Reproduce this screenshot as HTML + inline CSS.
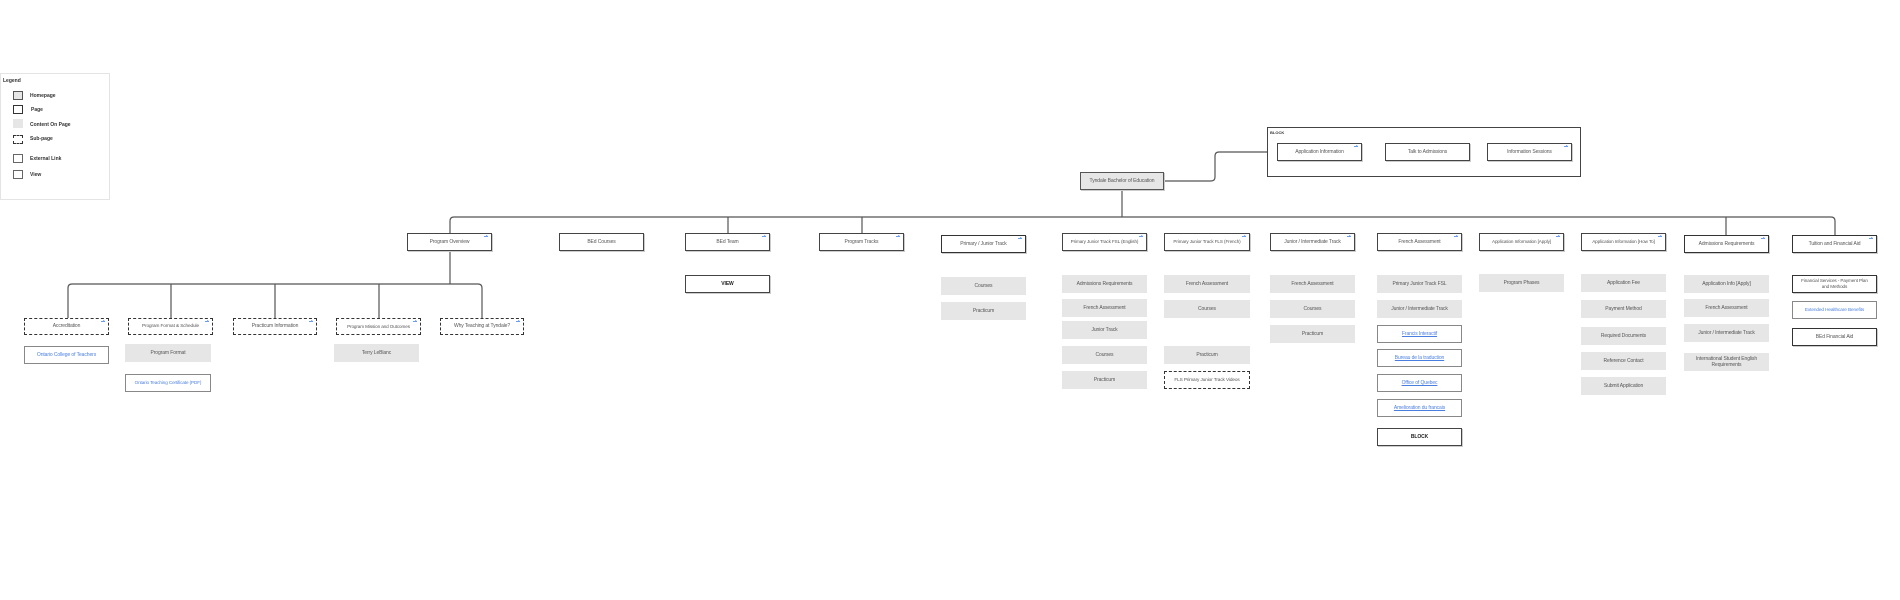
<!DOCTYPE html>
<html><head><meta charset="utf-8">
<style>
html,body{margin:0;padding:0;background:#fff;}
body{width:1900px;height:600px;position:relative;overflow:hidden;font-family:"Liberation Sans",sans-serif;}
.b{position:absolute;box-sizing:border-box;display:flex;align-items:center;justify-content:center;text-align:center;font-size:5px;color:#555;line-height:1.3;white-space:nowrap;letter-spacing:-0.1px;}
.p{border:1.2px solid #444;background:#fff;box-shadow:1px 1px 0 #ccc;}
.t{border:1.6px solid #333;}
.c{background:#e6e6e6;}
.d{border:1.2px dashed #333;background:#fff;}
.l{border:1.2px solid #888;background:#fff;color:#4a7fe0;}
.u{text-decoration:underline;}
.k{font-weight:bold;color:#222;}
.a::after{content:"";position:absolute;right:3px;top:2px;width:4px;height:1px;background:#6b9cf0;}
.a::before{content:"";position:absolute;right:3px;top:1px;width:0;height:0;border-left:2px solid #6b9cf0;border-top:1.5px solid transparent;border-bottom:1.5px solid transparent;}
.lg{position:absolute;font-size:5px;font-weight:bold;color:#333;}
.ic{position:absolute;left:13px;width:10px;height:9px;box-sizing:border-box;}
</style></head><body>
<svg width="1900" height="600" style="position:absolute;left:0;top:0" fill="none" stroke="#555" stroke-width="1.2">
<path d="M450 233 V221 Q450 217 454 217 H1831 Q1835 217 1835 221 V235"/>
<path d="M1122 190 V217"/>
<path d="M728 217 V233 M862 217 V233 M1726 217 V235"/>
<path d="M1164 181 H1211 Q1215 181 1215 177 V156 Q1215 152 1219 152 H1267"/>
<path d="M450 251 V284"/>
<path d="M68 318 V288 Q68 284 72 284 H478 Q482 284 482 288 V318"/>
<path d="M171 284 V318 M275 284 V318 M379 284 V318"/>
</svg>

<div style="position:absolute;left:0;top:73px;width:110px;height:127px;border:1px solid #e4e4e4;box-sizing:border-box;"></div>
<div class="lg" style="left:3px;top:78px;">Legend</div>
<div class="ic" style="top:91px;background:#e6e6e6;border:1.2px solid #555;"></div><div class="lg" style="left:30px;top:93px;">Homepage</div>
<div class="ic" style="top:105px;border:1.2px solid #333;"></div><div class="lg" style="left:31px;top:107px;">Page</div>
<div class="ic" style="top:119px;background:#e6e6e6;"></div><div class="lg" style="left:30px;top:122px;">Content On Page</div>
<div class="ic" style="top:135px;border:1.2px dashed #333;"></div><div class="lg" style="left:30px;top:136px;">Sub-page</div>
<div class="ic" style="top:154px;border:1px solid #666;"></div><div class="lg" style="left:30px;top:156px;">External Link</div>
<div class="ic" style="top:170px;border:1px solid #666;"></div><div class="lg" style="left:30px;top:172px;">View</div>

<div class="b p" style="left:1080px;top:172px;width:84px;height:18px;background:#e6e6e6;border-color:#555;">Tyndale Bachelor of Education</div>
<div style="position:absolute;left:1267px;top:127px;width:314px;height:50px;border:1.2px solid #444;box-sizing:border-box;"></div>
<div class="lg" style="left:1270px;top:130px;font-size:4px;">BLOCK</div>
<div class="b p a" style="left:1277px;top:143px;width:85px;height:18px;">Application Information</div>
<div class="b p" style="left:1385px;top:143px;width:85px;height:18px;">Talk to Admissions</div>
<div class="b p a" style="left:1487px;top:143px;width:85px;height:18px;">Information Sessions</div>

<div class="b p a" style="left:407px;top:233px;width:85px;height:18px;">Program Overview</div>
<div class="b p" style="left:559px;top:233px;width:85px;height:18px;">BEd Courses</div>
<div class="b p a" style="left:685px;top:233px;width:85px;height:18px;">BEd Team</div>
<div class="b p a" style="left:819px;top:233px;width:85px;height:18px;">Program Tracks</div>
<div class="b p t a" style="left:941px;top:235px;width:85px;height:18px;">Primary / Junior Track</div>
<div class="b p a" style="left:1062px;top:233px;width:85px;height:18px;font-size:4.6px;">Primary Junior Track FSL (English)</div>
<div class="b p a" style="left:1164px;top:233px;width:86px;height:18px;font-size:4.6px;">Primary Junior Track FLS (French)</div>
<div class="b p a" style="left:1270px;top:233px;width:85px;height:18px;">Junior / Intermediate Track</div>
<div class="b p a" style="left:1377px;top:233px;width:85px;height:18px;">French Assessment</div>
<div class="b p a" style="left:1479px;top:233px;width:85px;height:18px;font-size:4.6px;">Application Information [Apply]</div>
<div class="b p a" style="left:1581px;top:233px;width:85px;height:18px;font-size:4.6px;">Application Information [How To]</div>
<div class="b p t a" style="left:1684px;top:235px;width:85px;height:18px;">Admissions Requirements</div>
<div class="b p t a" style="left:1792px;top:235px;width:85px;height:18px;">Tuition and Financial Aid</div>

<div class="b d a" style="left:24px;top:318px;width:85px;height:17px;">Accreditation</div>
<div class="b d a" style="left:128px;top:318px;width:85px;height:17px;font-size:4.7px;">Program Format &amp; Schedule</div>
<div class="b d a" style="left:233px;top:318px;width:84px;height:17px;">Practicum Information</div>
<div class="b d a" style="left:336px;top:318px;width:85px;height:17px;font-size:4.6px;">Program Mission and Outcomes</div>
<div class="b d a" style="left:440px;top:318px;width:84px;height:17px;">Why Teaching at Tyndale?</div>
<div class="b l" style="left:24px;top:346px;width:85px;height:18px;">Ontario College of Teachers</div>
<div class="b c" style="left:125px;top:344px;width:86px;height:18px;">Program Format</div>
<div class="b l" style="left:125px;top:374px;width:86px;height:18px;font-size:4.6px;">Ontario Teaching Certificate (PDF)</div>
<div class="b c" style="left:334px;top:344px;width:85px;height:18px;">Terry LeBlanc</div>

<div class="b p k" style="left:685px;top:275px;width:85px;height:18px;">VIEW</div>

<div class="b c" style="left:941px;top:277px;width:85px;height:18px;">Courses</div>
<div class="b c" style="left:941px;top:302px;width:85px;height:18px;">Practicum</div>

<div class="b c" style="left:1062px;top:275px;width:85px;height:18px;">Admissions Requirements</div>
<div class="b c" style="left:1062px;top:299px;width:85px;height:18px;">French Assessment</div>
<div class="b c" style="left:1062px;top:321px;width:85px;height:18px;">Junior Track</div>
<div class="b c" style="left:1062px;top:346px;width:85px;height:18px;">Courses</div>
<div class="b c" style="left:1062px;top:371px;width:85px;height:18px;">Practicum</div>

<div class="b c" style="left:1164px;top:275px;width:86px;height:18px;">French Assessment</div>
<div class="b c" style="left:1164px;top:300px;width:86px;height:18px;">Courses</div>
<div class="b c" style="left:1164px;top:346px;width:86px;height:18px;">Practicum</div>
<div class="b d" style="left:1164px;top:371px;width:86px;height:18px;font-size:4.7px;">FLS Primary Junior Track Videos</div>

<div class="b c" style="left:1270px;top:275px;width:85px;height:18px;">French Assessment</div>
<div class="b c" style="left:1270px;top:300px;width:85px;height:18px;">Courses</div>
<div class="b c" style="left:1270px;top:325px;width:85px;height:18px;">Practicum</div>

<div class="b c" style="left:1377px;top:275px;width:85px;height:18px;">Primary Junior Track FSL</div>
<div class="b c" style="left:1377px;top:300px;width:85px;height:18px;">Junior / Intermediate Track</div>
<div class="b l u" style="left:1377px;top:325px;width:85px;height:18px;">Francis Interactif</div>
<div class="b l u" style="left:1377px;top:349px;width:85px;height:18px;">Bureau de la traduction</div>
<div class="b l u" style="left:1377px;top:374px;width:85px;height:18px;">Office of Quebec</div>
<div class="b l u" style="left:1377px;top:399px;width:85px;height:18px;">Amelioration du francais</div>
<div class="b p k" style="left:1377px;top:428px;width:85px;height:18px;">BLOCK</div>

<div class="b c" style="left:1479px;top:274px;width:85px;height:18px;">Program Phases</div>

<div class="b c" style="left:1581px;top:274px;width:85px;height:18px;">Application Fee</div>
<div class="b c" style="left:1581px;top:300px;width:85px;height:18px;">Payment Method</div>
<div class="b c" style="left:1581px;top:327px;width:85px;height:18px;">Required Documents</div>
<div class="b c" style="left:1581px;top:352px;width:85px;height:18px;">Reference Contact</div>
<div class="b c" style="left:1581px;top:377px;width:85px;height:18px;">Submit Application</div>

<div class="b c" style="left:1684px;top:275px;width:85px;height:18px;">Application Info [Apply]</div>
<div class="b c" style="left:1684px;top:299px;width:85px;height:18px;">French Assessment</div>
<div class="b c" style="left:1684px;top:324px;width:85px;height:18px;">Junior / Intermediate Track</div>
<div class="b c" style="left:1684px;top:353px;width:85px;height:18px;">International Student English<br>Requirements</div>

<div class="b p t" style="left:1792px;top:275px;width:85px;height:18px;font-size:4.6px;">Financial Services - Payment Plan<br>and Methods</div>
<div class="b l" style="left:1792px;top:301px;width:85px;height:18px;font-size:4.7px;">Extended Healthcare Benefits</div>
<div class="b p t" style="left:1792px;top:328px;width:85px;height:18px;">BEd Financial Aid</div>
</body></html>
